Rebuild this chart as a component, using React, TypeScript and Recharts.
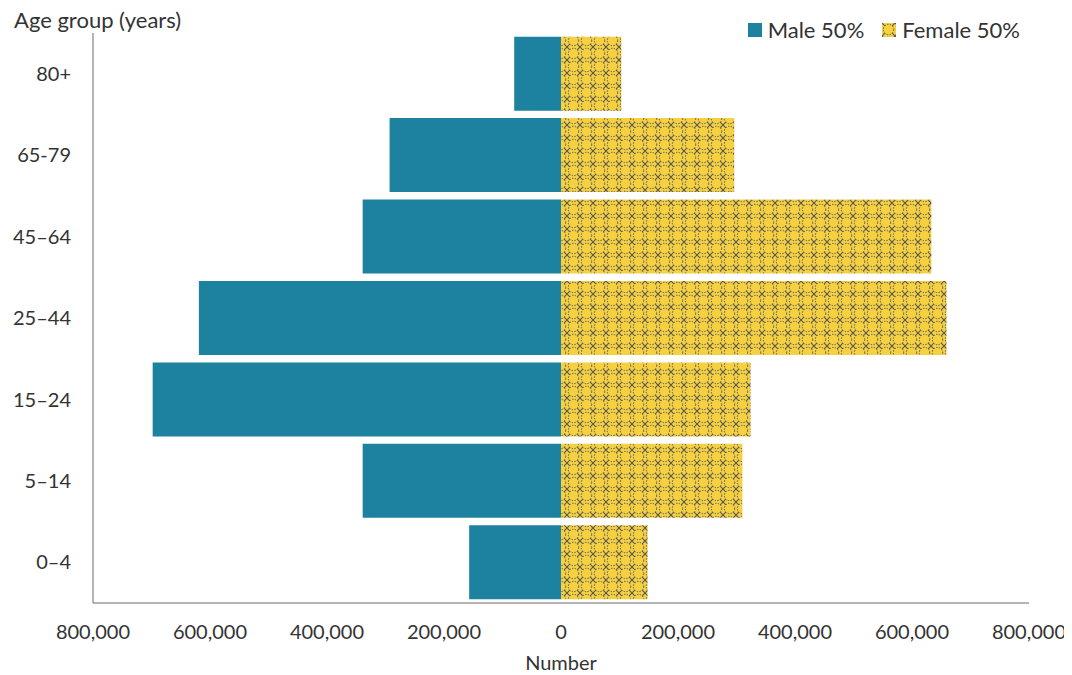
import { BarChart, Bar, XAxis, YAxis, Label } from "recharts";

const ageGroups = ["80+", "65-79", "45–64", "25–44", "15–24", "5–14", "0–4"];
const maleCounts = [80000, 293000, 339000, 619000, 698000, 339000, 157000];
const femaleCounts = [103000, 296000, 633000, 659000, 324000, 310000, 148000];
const xTicks = [-800000, -600000, -400000, -200000, 0, 200000, 400000, 600000, 800000];
const legendLabels = ["Male 50%", "Female 50%"];

const MALE = "#1c82a0";
const FEMALE = "#f5d142";
const FONT = "Lato, 'Open Sans', sans-serif";

// male goes left, so store it as negative
const data = ageGroups.map((age, i) => ({
  age,
  male: -maleCounts[i],
  female: femaleCounts[i],
}));

const fmt = (v: number) => Math.abs(v).toLocaleString("en-US");

const XTick = (props: any) => {
  const { x, y, payload } = props;
  return (
    <text x={x} y={y + 36} textAnchor="middle" fill="#333" fontSize={20} fontFamily={FONT}>
      {fmt(payload.value)}
    </text>
  );
};

const YTick = (props: any) => {
  const { x, y, payload } = props;
  return (
    <text x={x - 22} y={y} dy="0.36em" textAnchor="end" fill="#333" fontSize={20} fontFamily={FONT}>
      {payload.value}
    </text>
  );
};

const Swatch = ({ fill }: { fill: string }) => (
  <svg width={14} height={14} style={{ marginRight: 6 }}>
    <rect width={14} height={14} fill={fill} />
  </svg>
);

export default function App() {
  return (
    <div style={{ position: "relative", width: 1064, height: 667 }}>
      <svg width={0} height={0} style={{ position: "absolute" }}>
        <defs>
          <pattern id="femalePattern" width={13} height={13} patternUnits="userSpaceOnUse">
            <rect width={13} height={13} fill={FEMALE} />
            <circle cx={6.5} cy={6.5} r={5.2} fill="none" stroke="#555" strokeWidth={1} strokeDasharray="1.4 1.4" />
            <path
              d="M0,0 L2.8,2.8 M13,0 L10.2,2.8 M0,13 L2.8,10.2 M13,13 L10.2,10.2"
              stroke="#555"
              strokeWidth={1.1}
            />
          </pattern>
        </defs>
      </svg>

      <BarChart
        width={1064}
        height={667}
        data={data}
        layout="vertical"
        stackOffset="sign"
        barCategoryGap="4.5%"
        margin={{ top: 25, right: 43, left: 1, bottom: 0 }}
      >
        <XAxis
          type="number"
          domain={[-800000, 800000]}
          ticks={xTicks}
          tick={<XTick />}
          tickLine={false}
          tickSize={0}
          tickMargin={0}
          height={72}
          stroke="#6b6b6b"
        >
          <Label value="Number" position="insideBottom" offset={5} fill="#333" fontSize={20} fontFamily={FONT} />
        </XAxis>
        <YAxis
          type="category"
          dataKey="age"
          width={84}
          tick={<YTick />}
          tickLine={false}
          tickSize={0}
          tickMargin={0}
          stroke="#6b6b6b"
        />
        <Bar dataKey="male" stackId="pop" fill={MALE} isAnimationActive={false} />
        <Bar dataKey="female" stackId="pop" fill="url(#femalePattern)" isAnimationActive={false} />
      </BarChart>

      <div
        style={{
          position: "absolute",
          right: 52,
          top: 11,
          display: "flex",
          alignItems: "center",
          fontFamily: FONT,
          fontSize: 22,
          lineHeight: "22px",
          color: "#333",
        }}
      >
        <Swatch fill={MALE} />
        <span style={{ marginRight: 18 }}>{legendLabels[0]}</span>
        <Swatch fill="url(#femalePattern)" />
        <span>{legendLabels[1]}</span>
      </div>

      <div style={{ position: "absolute", left: 6, top: 1, fontFamily: FONT, fontSize: 22, lineHeight: "22px", color: "#333" }}>
        Age group (years)
      </div>
    </div>
  );
}
